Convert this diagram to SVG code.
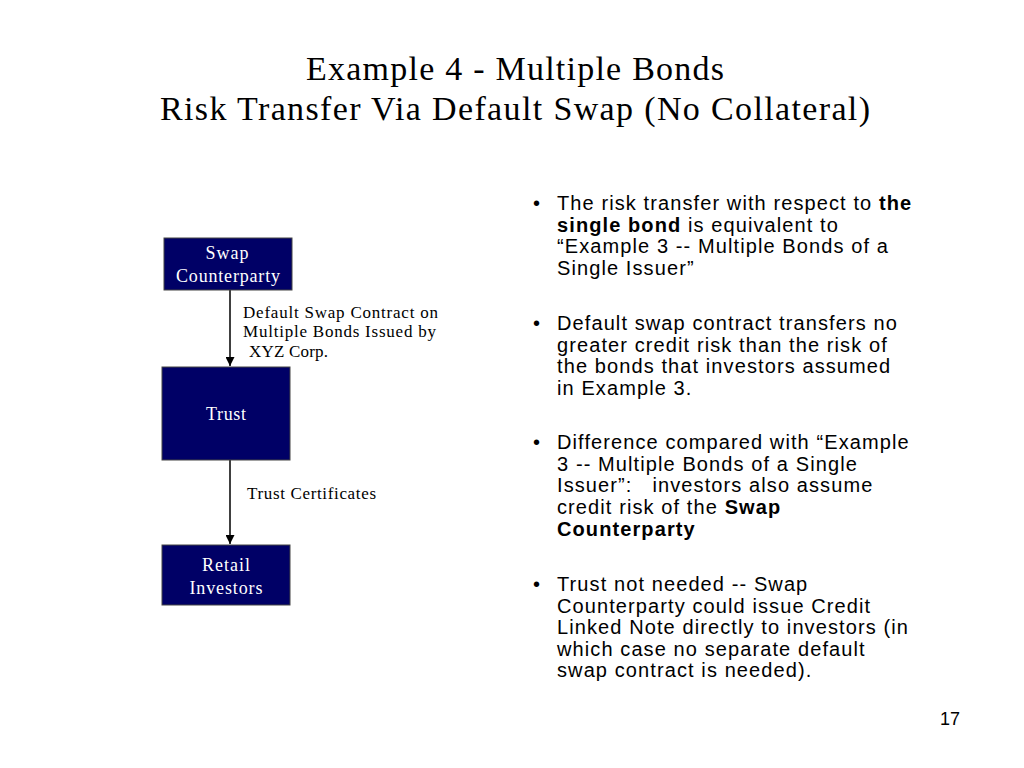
<svg xmlns="http://www.w3.org/2000/svg" width="1024" height="768" viewBox="0 0 1024 768">
<defs>
<style>
.title{font-family:"Liberation Serif",serif;font-size:34px;fill:#000;text-anchor:middle}
.box{fill:#000066;stroke:#444;stroke-width:1}
.bt{font-family:"Liberation Serif",serif;font-size:18px;fill:#fff;text-anchor:middle}
.lbl{font-family:"Liberation Serif",serif;font-size:17px;fill:#000}
.bul{font-family:"Liberation Sans",Arial,sans-serif;font-size:20px;letter-spacing:1.1px;fill:#000}
.conn{stroke:#000;stroke-width:1.5;fill:none}
</style>
<marker id="arr" viewBox="0 0 10 10" refX="10" refY="5" markerWidth="9" markerHeight="9" orient="auto" markerUnits="userSpaceOnUse">
<path d="M0,0 L10,5 L0,10 z" fill="#000"/>
</marker>
</defs>
<rect width="1024" height="768" fill="#fff"/>
<text class="title" x="515" y="80" textLength="418">Example 4 - Multiple Bonds</text>
<text class="title" x="515" y="120" textLength="710">Risk Transfer Via Default Swap (No Collateral)</text>

<g id="connectors">
<line class="conn" x1="230" y1="290" x2="230" y2="366" marker-end="url(#arr)"/>
<line class="conn" x1="230" y1="460" x2="230" y2="544" marker-end="url(#arr)"/>
<text class="lbl" x="243" y="318" textLength="195">Default Swap Contract on</text>
<text class="lbl" x="243" y="337" textLength="193">Multiple Bonds Issued by</text>
<text class="lbl" x="249" y="357" textLength="79">XYZ Corp.</text>
<text class="lbl" x="247" y="499" textLength="129">Trust Certificates</text>
</g>

<g id="swap-counterparty">
<rect class="box" x="164" y="238" width="128" height="52"/>
<text class="bt" x="227" y="259" textLength="43">Swap</text>
<text class="bt" x="228" y="282" textLength="104">Counterparty</text>
</g>
<g id="trust">
<rect class="box" x="162" y="367" width="128" height="93"/>
<text class="bt" x="226" y="420" textLength="40">Trust</text>
</g>
<g id="retail-investors">
<rect class="box" x="162" y="545" width="128" height="60"/>
<text class="bt" x="226" y="571" textLength="48">Retail</text>
<text class="bt" x="226" y="594" textLength="73">Investors</text>
</g>

<g id="bullets">
<text class="bul" x="533" y="210">•</text>
<text class="bul" x="557" y="210">The risk transfer with respect to <tspan font-weight="bold">the</tspan></text>
<text class="bul" x="557" y="232"><tspan font-weight="bold">single bond</tspan> is equivalent to</text>
<text class="bul" x="557" y="253">“Example 3 -- Multiple Bonds of a</text>
<text class="bul" x="557" y="275">Single Issuer”</text>

<text class="bul" x="533" y="330">•</text>
<text class="bul" x="557" y="330">Default swap contract transfers no</text>
<text class="bul" x="557" y="352">greater credit risk than the risk of</text>
<text class="bul" x="557" y="373">the bonds that investors assumed</text>
<text class="bul" x="557" y="395">in Example 3.</text>

<text class="bul" x="533" y="449">•</text>
<text class="bul" x="557" y="449">Difference compared with “Example</text>
<text class="bul" x="557" y="471">3 -- Multiple Bonds of a Single</text>
<text class="bul" x="557" y="492" xml:space="preserve">Issuer”:   investors also assume</text>
<text class="bul" x="557" y="514">credit risk of the <tspan font-weight="bold">Swap</tspan></text>
<text class="bul" x="557" y="536" font-weight="bold">Counterparty</text>

<text class="bul" x="533" y="591">•</text>
<text class="bul" x="557" y="591">Trust not needed -- Swap</text>
<text class="bul" x="557" y="613">Counterparty could issue Credit</text>
<text class="bul" x="557" y="634">Linked Note directly to investors (in</text>
<text class="bul" x="557" y="656">which case no separate default</text>
<text class="bul" x="557" y="677">swap contract is needed).</text>
</g>
<text x="940" y="725" font-family="Liberation Sans, Arial, sans-serif" font-size="18" fill="#000">17</text>
</svg>
